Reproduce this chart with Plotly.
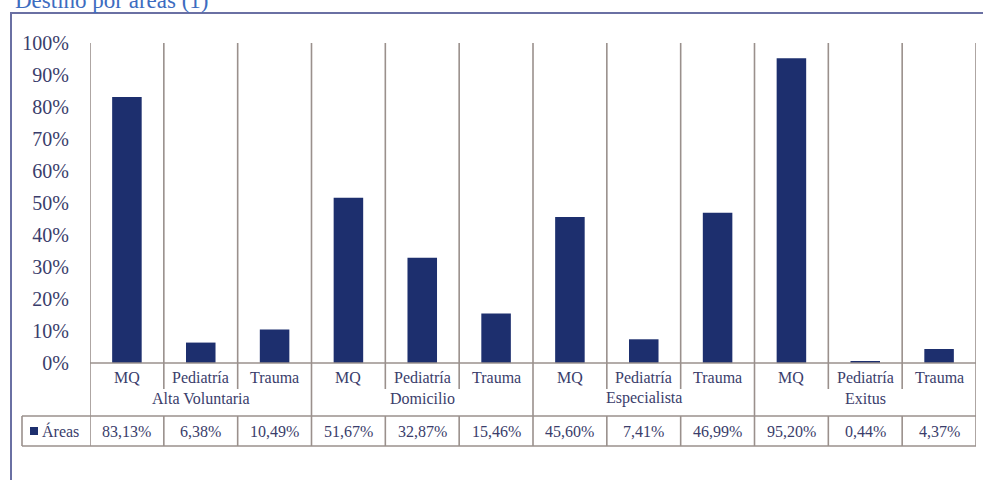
import plotly.graph_objects as go

# ---- data ----
groups = ["Alta Voluntaria", "Domicilio", "Especialista", "Exitus"]
subcats = ["MQ", "Pediatría", "Trauma"]
values = [83.13, 6.38, 10.49, 51.67, 32.87, 15.46, 45.60, 7.41, 46.99, 95.20, 0.44, 4.37]
value_labels = ["83,13%", "6,38%", "10,49%", "51,67%", "32,87%", "15,46%",
                "45,60%", "7,41%", "46,99%", "95,20%", "0,44%", "4,37%"]
series_name = "Áreas"
title_text = "Destino por áreas (1)"
y_ticks = list(range(0, 101, 10))
y_tick_labels = [f"{v}%" for v in y_ticks]

# ---- layout geometry (pixels) ----
W, H = 983, 480
L, R, T, B = 90, 7, 43, 117
PW, PH = W - L - R, H - T - B


def px(x):
    return (x - L) / PW


def py(y):
    return (H - B - y) / PH


BAR = "#1d2f6e"
TXT = "#3a3d6b"
GRID = "#9a908c"
FONT = "Liberation Serif"

n_sub = len(subcats)
n = len(values)
xs = list(range(n))
sub_labels = [subcats[i % n_sub] for i in xs]

fig = go.Figure()
fig.add_trace(go.Bar(x=xs, y=values, marker=dict(color=BAR, line=dict(width=0)),
                     name=series_name, showlegend=False, hoverinfo="y"))

shapes = []
annotations = []

# vertical separators
for i in range(n + 1):
    xb = i - 0.5
    is_group = (i % n_sub == 0)
    shapes.append(dict(type="line", xref="x", yref="y", x0=xb, x1=xb, y0=0, y1=100,
                       line=dict(color=GRID, width=1.6)))
    bottom = 446 if is_group else 389
    shapes.append(dict(type="line", xref="x", yref="paper", x0=xb, x1=xb,
                       y0=py(bottom), y1=0, line=dict(color=GRID, width=1.6)))
    if not is_group:
        shapes.append(dict(type="line", xref="x", yref="paper", x0=xb, x1=xb,
                           y0=py(446), y1=py(416), line=dict(color=GRID, width=1.6)))

# axis line
shapes.append(dict(type="line", xref="x", yref="paper", x0=-0.5, x1=n - 0.5, y0=0, y1=0,
                   line=dict(color=GRID, width=1.6)))
# table lines
for yy in (416, 446):
    shapes.append(dict(type="line", xref="paper", yref="paper", x0=px(22), x1=1,
                       y0=py(yy), y1=py(yy), line=dict(color=GRID, width=1.6)))
shapes.append(dict(type="line", xref="paper", yref="paper", x0=px(22), x1=px(22),
                   y0=py(446), y1=py(416), line=dict(color=GRID, width=1.6)))
# legend key square
shapes.append(dict(type="rect", xref="paper", yref="paper", x0=px(30), x1=px(38),
                   y0=py(435), y1=py(427), fillcolor=BAR, line=dict(width=0)))
# outer frame
shapes.append(dict(type="rect", xref="paper", yref="paper", x0=px(11), x1=px(1000),
                   y0=py(500), y1=py(13), line=dict(color="#6a70a3", width=2)))

FS = 16
# sub category labels + table values
for i in xs:
    annotations.append(dict(x=i, y=py(377), xref="x", yref="paper", text=sub_labels[i],
                            xanchor="center", yanchor="middle", showarrow=False,
                            font=dict(family=FONT, size=FS, color=TXT)))
    annotations.append(dict(x=i, y=py(431), xref="x", yref="paper", text=value_labels[i],
                            xanchor="center", yanchor="middle", showarrow=False,
                            font=dict(family=FONT, size=FS, color=TXT)))
# group labels
for g, name in enumerate(groups):
    annotations.append(dict(x=g * n_sub + (n_sub - 1) / 2, y=py(398), xref="x", yref="paper",
                            text=name, xanchor="center", yanchor="middle", showarrow=False,
                            font=dict(family=FONT, size=FS, color=TXT)))
# legend text
annotations.append(dict(x=px(40), y=py(431), xref="paper", yref="paper", text=series_name,
                        xanchor="left", yanchor="middle", showarrow=False,
                        font=dict(family=FONT, size=FS, color=TXT)))
# title
annotations.append(dict(x=px(13), y=py(1), xref="paper", yref="paper", text=title_text,
                        xanchor="left", yanchor="middle", showarrow=False,
                        font=dict(family=FONT, size=23, color="#3d6cc0")))

fig.update_layout(
    width=W, height=H,
    margin=dict(l=L, r=R, t=T, b=B, pad=0, autoexpand=False),
    paper_bgcolor="white", plot_bgcolor="white",
    bargap=0.6,
    shapes=shapes, annotations=annotations,
    xaxis=dict(range=[-0.5, n - 0.5], showticklabels=False, showgrid=False,
               zeroline=False, showline=False, ticks="", automargin=False),
    yaxis=dict(range=[0, 100], tickvals=y_ticks, ticktext=y_tick_labels, showgrid=False,
               zeroline=False, showline=False, ticks="", ticklabelstandoff=20,
               automargin=False,
               tickfont=dict(family=FONT, size=20, color=TXT)),
    showlegend=False,
)

fig.write_html("out.html", config={"displayModeBar": False},
               post_script="document.body.style.margin='0';document.body.style.overflow='hidden';")
